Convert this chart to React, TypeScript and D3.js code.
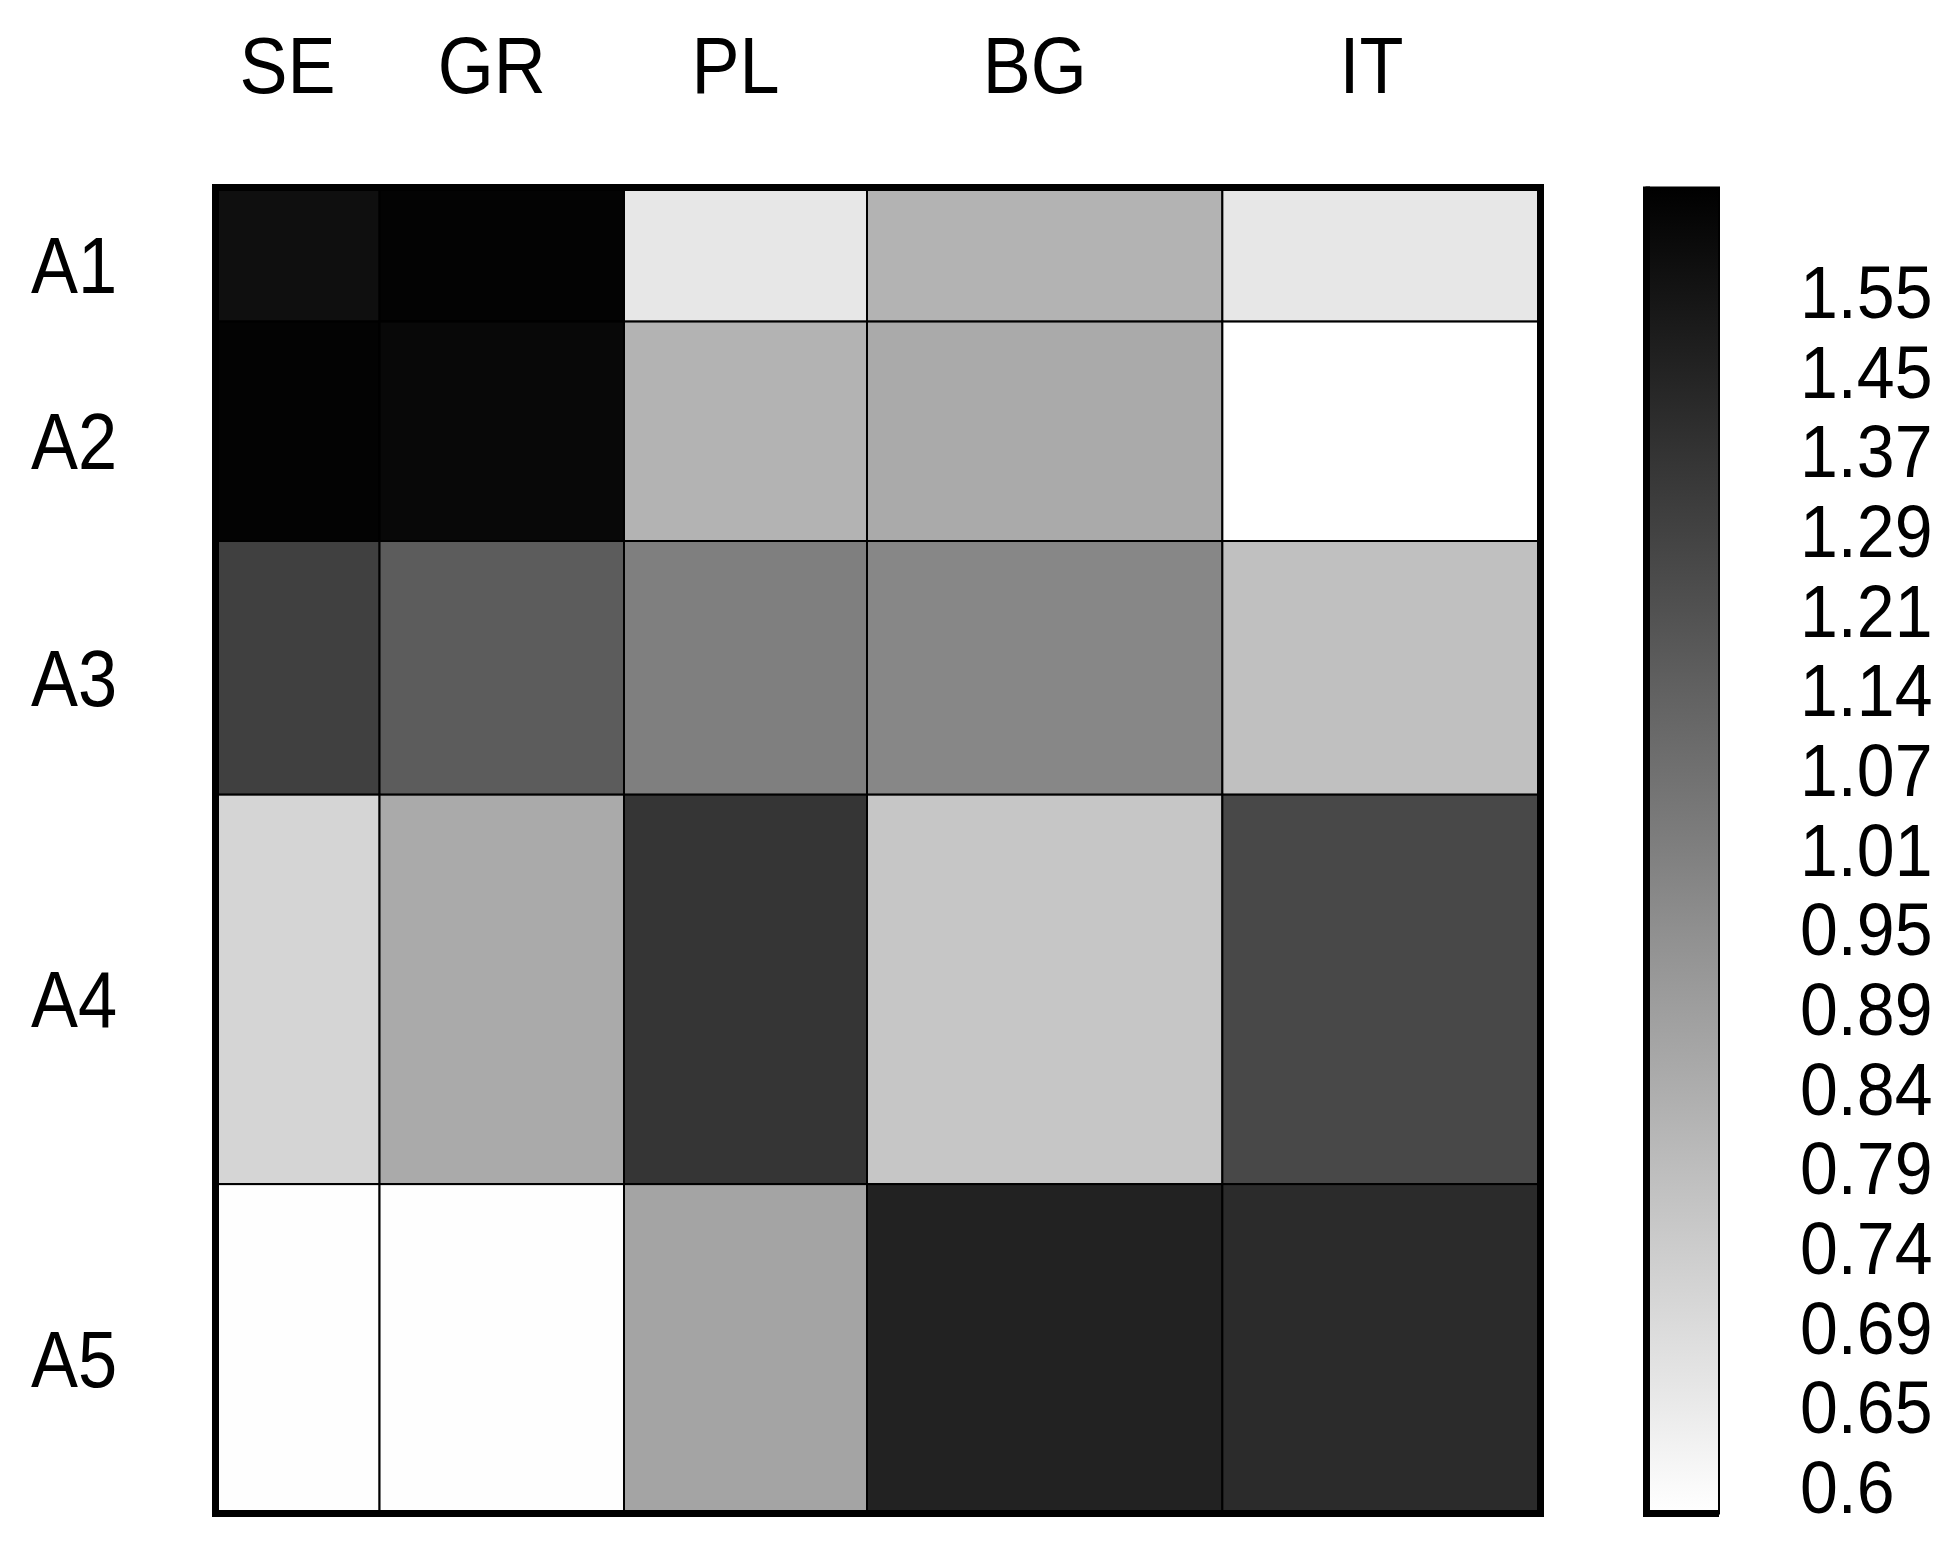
import * as d3 from 'd3';
import { useEffect, useRef } from 'react';

// ── Data ──────────────────────────────────────────────────────────────────
const rowLabels = ['A1', 'A2', 'A3', 'A4', 'A5'];
const colLabels = ['SE', 'GR', 'PL', 'BG', 'IT'];

// share of the total width / height taken by each column / row
const colShare = [0.1238, 0.1845, 0.1834, 0.2682, 0.2402];
const rowShare = [0.1011, 0.1655, 0.1913, 0.2937, 0.2485];

// cell values, one array per row, in column order (SE, GR, PL, BG, IT)
const valuesA1 = [1.58, 1.66, 0.66, 0.82, 0.66];
const valuesA2 = [1.66, 1.63, 0.82, 0.85, 0.58];
const valuesA3 = [1.3, 1.16, 1.01, 0.98, 0.78];
const valuesA4 = [0.71, 0.85, 1.36, 0.76, 1.26];
const valuesA5 = [0.585, 0.585, 0.87, 1.46, 1.41];
const cellValues = [valuesA1, valuesA2, valuesA3, valuesA4, valuesA5];

// colour bar tick labels, bottom to top
const colorTicks = [0.6, 0.65, 0.69, 0.74, 0.79, 0.84, 0.89, 0.95, 1.01, 1.07, 1.14, 1.21, 1.29, 1.37, 1.45, 1.55];

const WIDTH = 1959;
const HEIGHT = 1548;
const FONT = "'Liberation Sans', Arial, sans-serif";

const HeatMap = () => {
  const svgRef = useRef(null);

  useEffect(() => {
    if (!svgRef.current) return;
    const svg = d3.select(svgRef.current);
    svg.selectAll('*').remove();

    const plot = { left: 215.5, right: 1540.5, top: 187.5, bottom: 1513.5 };
    const bar = { left: 1646.5, right: 1719 };

    // ── Scales ──────────────────────────────────────────────────────────────
    const xScale = d3.scaleLinear().domain([0, 1]).range([plot.left, plot.right]);
    const yScale = d3.scaleLinear().domain([0, 1]).range([plot.top, plot.bottom]);
    const colEdges = [0, ...d3.cumsum(colShare)];
    const rowEdges = [0, ...d3.cumsum(rowShare)];

    // tick labels sit evenly along the bar; values between them map piecewise
    const tickIndex = d3.scaleLinear().domain([0, colorTicks.length - 1]).range([1486.5, 291.5]);
    const valueToY = d3
      .scaleLinear()
      .domain(colorTicks)
      .range(colorTicks.map((_, i) => tickIndex(i)));
    const yToGray = d3.scaleLinear<string>().domain([plot.top, plot.bottom]).range(['#000000', '#ffffff']).clamp(true);
    const color = v => yToGray(valueToY(v));

    // ── Cells ───────────────────────────────────────────────────────────────
    const cells = cellValues.flatMap((row, i) => row.map((v, j) => ({ i, j, v })));
    svg
      .append('g')
      .selectAll('rect')
      .data(cells)
      .join('rect')
      .attr('x', d => xScale(colEdges[d.j]))
      .attr('y', d => yScale(rowEdges[d.i]))
      .attr('width', d => xScale(colEdges[d.j + 1]) - xScale(colEdges[d.j]))
      .attr('height', d => yScale(rowEdges[d.i + 1]) - yScale(rowEdges[d.i]))
      .attr('fill', d => color(d.v))
      .attr('stroke', '#000')
      .attr('stroke-width', 2);

    svg
      .append('rect')
      .attr('x', plot.left)
      .attr('y', plot.top)
      .attr('width', plot.right - plot.left)
      .attr('height', plot.bottom - plot.top)
      .attr('fill', 'none')
      .attr('stroke', '#000')
      .attr('stroke-width', 7);

    // ── Labels ──────────────────────────────────────────────────────────────
    svg
      .append('g')
      .selectAll('text')
      .data(colLabels)
      .join('text')
      .attr('transform', (_, j) => `translate(${(xScale(colEdges[j]) + xScale(colEdges[j + 1])) / 2 - 10},93) scale(0.9,1)`)
      .attr('text-anchor', 'middle')
      .attr('font-family', FONT)
      .attr('font-size', 80)
      .text(d => d);

    svg
      .append('g')
      .selectAll('text')
      .data(rowLabels)
      .join('text')
      .attr('transform', (_, i) => `translate(31,${(yScale(rowEdges[i]) + yScale(rowEdges[i + 1])) / 2 + 38}) scale(0.88,1)`)
      .attr('font-family', FONT)
      .attr('font-size', 80)
      .text(d => d);

    // ── Colour bar ──────────────────────────────────────────────────────────
    const gradId = 'bar-gradient';
    const grad = svg.append('defs').append('linearGradient').attr('id', gradId).attr('x1', 0).attr('x2', 0).attr('y1', 0).attr('y2', 1);
    const stopYs = [plot.top, ...colorTicks.map(v => valueToY(v)).reverse(), plot.bottom];
    grad
      .selectAll('stop')
      .data(stopYs)
      .join('stop')
      .attr('offset', y => (y - plot.top) / (plot.bottom - plot.top))
      .attr('stop-color', y => yToGray(y));

    svg
      .append('rect')
      .attr('x', bar.left)
      .attr('y', plot.top)
      .attr('width', bar.right - bar.left)
      .attr('height', plot.bottom - plot.top)
      .attr('fill', `url(#${gradId})`)
      .attr('stroke', '#000')
      .attr('stroke-width', 2);

    // heavier edge on the left and bottom of the bar
    svg
      .append('path')
      .attr('d', `M${bar.left},${plot.top - 1}V${plot.bottom}H${bar.right}`)
      .attr('fill', 'none')
      .attr('stroke', '#000')
      .attr('stroke-width', 7);

    svg
      .append('g')
      .selectAll('text')
      .data(colorTicks)
      .join('text')
      .attr('transform', v => `translate(1800,${valueToY(v) + 26.5}) scale(0.92,1)`)
      .attr('font-family', FONT)
      .attr('font-size', 74)
      .text(v => String(v));
  }, []);

  return <svg ref={svgRef} width={WIDTH} height={HEIGHT} style={{ display: 'block', background: '#fff' }} />;
};

export default function App() {
  return (
    <div style={{ position: 'absolute', left: 0, top: 0, width: WIDTH, height: HEIGHT, background: '#fff' }}>
      <HeatMap />
    </div>
  );
}
